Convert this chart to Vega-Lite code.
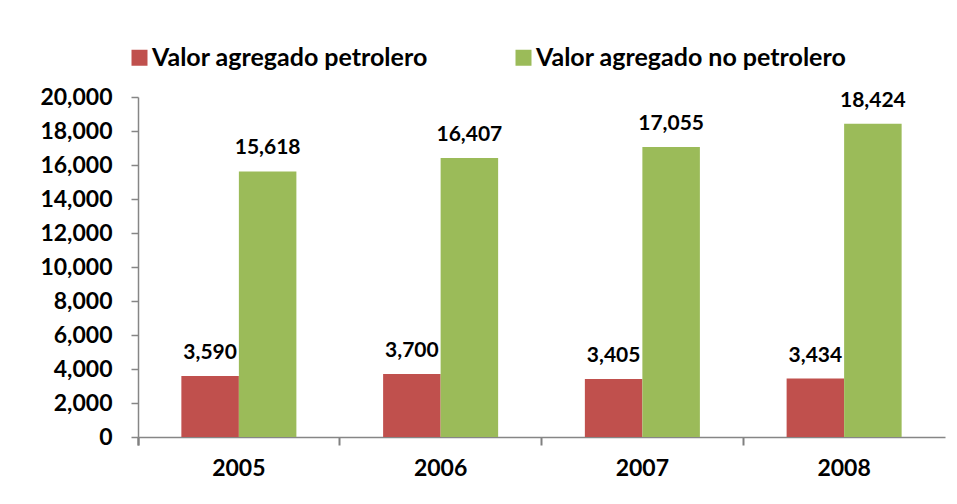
{
  "$schema": "https://vega.github.io/schema/vega-lite/v6.json",
  "width": 807,
  "height": 340,
  "autosize": {"type": "none"},
  "padding": {"left": 138, "top": 97, "right": 12, "bottom": 67},
  "background": "white",
  "config": {
    "font": "Lato",
    "view": {"stroke": null},
    "axis": {"grid": false, "domainColor": "#868686", "tickColor": "#868686", "labelFont": "Lato", "labelFontWeight": "bold", "labelFontSize": 23, "labelColor": "#000000", "title": null}
  },
  "data": {
    "values": [
      {"year": "2005", "serie": "Valor agregado petrolero", "valor": 3590},
      {"year": "2005", "serie": "Valor agregado no petrolero", "valor": 15618},
      {"year": "2006", "serie": "Valor agregado petrolero", "valor": 3700},
      {"year": "2006", "serie": "Valor agregado no petrolero", "valor": 16407},
      {"year": "2007", "serie": "Valor agregado petrolero", "valor": 3405},
      {"year": "2007", "serie": "Valor agregado no petrolero", "valor": 17055},
      {"year": "2008", "serie": "Valor agregado petrolero", "valor": 3434},
      {"year": "2008", "serie": "Valor agregado no petrolero", "valor": 18424}
    ]
  },
  "encoding": {
    "x": {
      "field": "year", "type": "nominal",
      "scale": {"paddingInner": 0, "paddingOuter": 0},
      "axis": {"labelAngle": 0, "bandPosition": 0, "tickExtra": true, "ticks": true, "tickSize": 8, "labelPadding": 12, "domainWidth": 1.5, "tickWidth": 2, "tickColor": "#808080"}
    },
    "xOffset": {"field": "serie", "type": "nominal", "sort": ["Valor agregado petrolero", "Valor agregado no petrolero"], "scale": {"paddingInner": 0, "paddingOuter": 0.754}},
    "y": {
      "field": "valor", "type": "quantitative",
      "scale": {"domain": [0, 20000], "nice": false},
      "axis": {"values": [0, 2000, 4000, 6000, 8000, 10000, 12000, 14000, 16000, 18000, 20000], "format": ",.0f", "tickSize": 7, "labelPadding": 19, "domainWidth": 1.5, "tickWidth": 1.5}
    }
  },
  "layer": [
    {
      "mark": {"type": "bar"},
      "encoding": {
        "color": {
          "field": "serie", "type": "nominal",
          "sort": ["Valor agregado petrolero", "Valor agregado no petrolero"],
          "scale": {"domain": ["Valor agregado petrolero", "Valor agregado no petrolero"], "range": ["#C0504D", "#9BBB59"]},
          "legend": {
            "title": null, "orient": "none", "direction": "horizontal",
            "legendX": -11, "legendY": -52,
            "symbolType": "square", "symbolSize": 256, "symbolStrokeWidth": 0, "symbolOpacity": 1,
            "labelFont": "Lato", "labelFontWeight": "bold", "labelFontSize": 25, "labelColor": "#000000",
            "labelOffset": 0, "columnPadding": 83, "labelLimit": 400
          }
        }
      }
    },
    {
      "mark": {"type": "text", "fontWeight": "bold", "fontSize": 21, "font": "Lato", "baseline": "alphabetic", "dy": -17, "color": "#000000"},
      "encoding": {
        "text": {"field": "valor", "type": "quantitative", "format": ",.0f"}
      }
    }
  ]
}
